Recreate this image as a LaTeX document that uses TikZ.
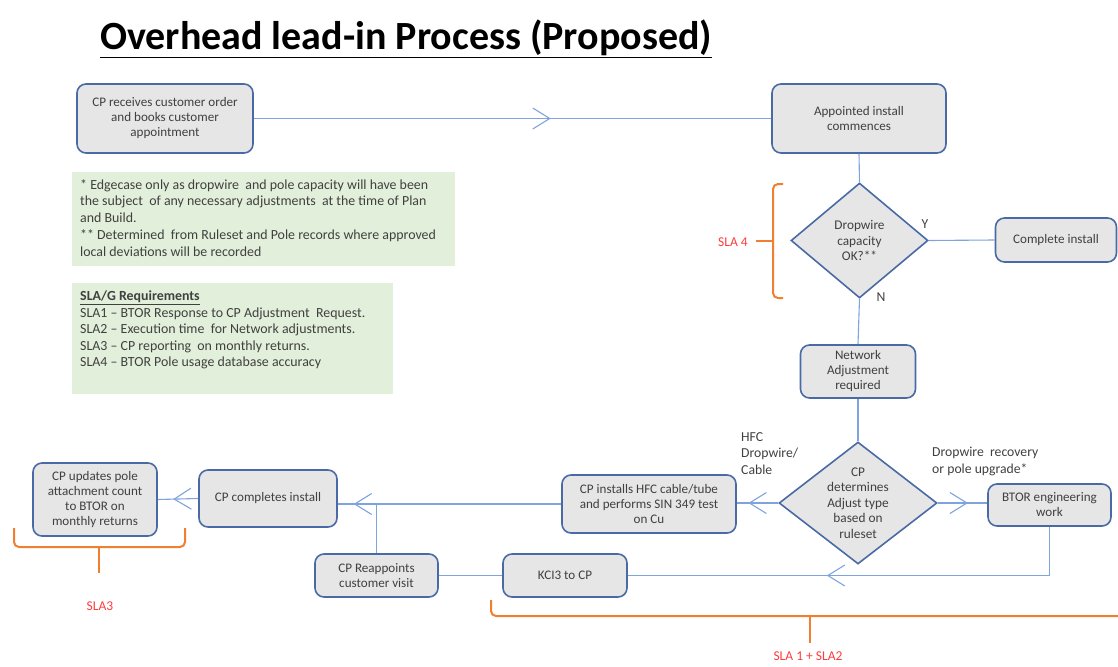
\documentclass[tikz,border=0pt]{standalone}
\usepackage{fontspec}
\setmainfont{Carlito}
\usetikzlibrary{shapes.geometric,arrows.meta,decorations.markings}
\definecolor{boxfill}{HTML}{E6E6E6}
\definecolor{boxline}{HTML}{4A6AA5}
\definecolor{connblue}{HTML}{7FA3DC}
\definecolor{notefill}{HTML}{E2EFDA}
\definecolor{braceor}{HTML}{F08030}
\definecolor{slared}{HTML}{FF3B3B}
\definecolor{txt}{HTML}{404040}
\begin{document}
\begin{tikzpicture}[x=1pt,y=-1pt,
  box/.style={draw=boxline, line width=1.6pt, fill=boxfill, rounded corners=9pt,
    align=center, text=txt, font=\fontsize{13.1}{15}\selectfont, inner sep=0pt},
  dia/.style={diamond, draw=boxline, line width=1.6pt, fill=boxfill, inner sep=0pt},
  diatext/.style={align=center, text=txt, font=\fontsize{13.3}{15.4}\selectfont, inner sep=0pt},
  link/.style={color=connblue, line width=1.1pt},
  midarrow/.style={postaction={decorate, decoration={markings,
    mark=at position #1 with {\arrow{Straight Barb[length=17pt,width=21pt,line width=1.1pt]}}}}},
  note/.style={fill=notefill, draw=none},
  notetext/.style={anchor=north west, align=left, text=txt, inner sep=0pt,
    font=\fontsize{13.9}{16.8}\selectfont},
  lbl/.style={text=txt, font=\fontsize{13.7}{16.5}\selectfont, inner sep=0pt},
  brace/.style={draw=braceor, line width=2pt, rounded corners=5pt},
  slatext/.style={text=slared, font=\fontsize{13.5}{15}\selectfont, inner sep=0pt}
]
\useasboundingbox (0,0) rectangle (1118,666);
\clip (0,0) rectangle (1118,666);

% title
\node[anchor=base west, inner sep=0pt, font=\fontsize{40}{46}\bfseries\selectfont] (title) at (100,50)
  {Overhead lead-in Process (Proposed)};
\draw[line width=1.8pt] (title.base west) ++(0,7.5) coordinate (ul1) -- (ul1 -| title.east);

% notes
\node[note, minimum width=383pt, minimum height=94pt] (note1) at (263,219) {};
\node[notetext] (note1t) at (80,179) {* Edgecase only as dropwire\ \ and pole capacity will have been\\
the subject\ \ of any necessary adjustments\ \ at the time of Plan\\
and Build.\\
** Determined\ \ from Ruleset and Pole records where approved\\
local deviations will be recorded};
\node[note, minimum width=321pt, minimum height=111pt] (note2) at (232,338.5) {};
\node[notetext, font=\fontsize{13.9}{16.5}\selectfont] (note2t) at (80,291) {\underline{\textbf{SLA/G Requirements}}\\
SLA1 -- BTOR Response to CP Adjustment\ \ Request.\\
SLA2 -- Execution time\ \ for Network adjustments.\\
SLA3 -- CP reporting\ \ on monthly returns.\\
SLA4 -- BTOR Pole usage database accuracy};

% boxes
\node[box, minimum width=176pt, minimum height=69pt] (a) at (165,118.5)
  {CP receives customer order\\and books customer\\appointment};
\node[box, minimum width=174pt, minimum height=69pt] (b) at (859,118.5)
  {Appointed install\\commences};
\node[dia, minimum width=137pt, minimum height=115pt] (d1) at (859.5,240.5) {};
\node[diatext] (d1t) at (859.5,240.5) {Dropwire\\capacity\\OK?**};
\node[box, minimum width=121pt, minimum height=44pt] (ci) at (1056,240) {Complete install};
\node[box, minimum width=115pt, minimum height=53pt] (na) at (858,371.5)
  {Network\\Adjustment\\required};
\node[dia, minimum width=158pt, minimum height=122pt] (d2) at (858,503) {};
\node[diatext] (d2t) at (858,503) {CP\\determines\\Adjust type\\based on\\ruleset};
\node[box, minimum width=123pt, minimum height=42pt] (btor) at (1049.5,505)
  {BTOR engineering\\work};
\node[box, minimum width=174pt, minimum height=58pt] (hfc) at (649,504)
  {CP installs HFC cable/tube\\and performs SIN 349 test\\on Cu};
\node[box, minimum width=138pt, minimum height=57pt] (comp) at (268,498.5)
  {CP completes install};
\node[box, minimum width=124pt, minimum height=73pt] (upd) at (95,499.5)
  {CP updates pole\\attachment count\\to BTOR on\\monthly returns};
\node[box, minimum width=123pt, minimum height=43pt] (reap) at (376.5,575.5)
  {CP Reappoints\\customer visit};
\node[box, minimum width=124pt, minimum height=43pt] (kci) at (565,575.5)
  {KCI3 to CP};

% labels
\node[lbl] (ylbl) at (925,224) {Y};
\node[lbl] (nlbl) at (881,297) {N};
\node[lbl, anchor=north west, align=left] (hfclbl) at (741,432) {HFC\\Dropwire/\\Cable};
\node[lbl, anchor=north west, align=left] (dwlbl) at (932,447) {Dropwire\ \ recovery\\or pole upgrade*};

% connectors
\draw[link, midarrow=0.574] (a.east) -- (b.west);
\draw[link] (b.south) -- (d1.north);
\draw[link] (d1.east) -- (ci.west);
\draw[link] (d1.south) -- (na.north);
\draw[link] (na.south) -- (d2.north);
\draw[link, midarrow=0.72] (d2.west) -- (d2.west -| hfc.east);
\draw[link, midarrow=0.61] (d2.east) -- (d2.east -| btor.west);
\draw[link, midarrow=0.577] (btor.south) |- (kci.east);
\draw[link] (kci.west) -- (reap.east);
\draw[link, midarrow=0.929] (hfc.west) -- (hfc.west -| comp.east);
\draw[link] (reap.north) -- (reap.north |- hfc.west);
\draw[link, midarrow=0.62] (comp.west) -- (upd.east);

% braces
\draw[brace] (783,184) -- (773,184) -- (773,298) -- (783,298);
\draw[brace] (773,241) -- (756,241);
\node[slatext] (sla4) at (733,242) {SLA 4};
\draw[brace] (14,528) -- (14,547) -- (185,547) -- (185,528);
\draw[brace] (99,547) -- (99,573);
\node[slatext] (sla3) at (100,606) {SLA3};
\draw[brace] (491,600) -- (491,616) -- (1130,616);
\draw[brace] (810,616) -- (810,643);
\node[slatext] (sla12) at (808,656) {SLA 1 + SLA2};
\end{tikzpicture}
\end{document}
